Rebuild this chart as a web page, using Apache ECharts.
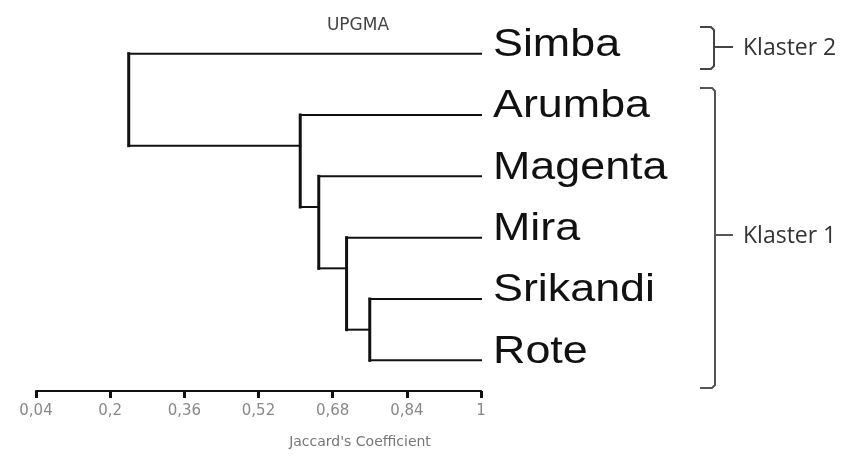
<!DOCTYPE html>
<html><head><meta charset="utf-8">
<script src="https://cdn.jsdelivr.net/npm/echarts@6/dist/echarts.min.js"></script>
<style>html,body{margin:0;padding:0;background:#fff}#c{width:850px;height:457px}</style>
</head><body><div id="c"></div>
<script>
// ---- data ----
const leaves = ['Simba', 'Arumba', 'Magenta', 'Mira', 'Srikandi', 'Rote'];
const mergeA = ['Srikandi', 'Mira', 'Magenta', 'Arumba', 'Simba'];
const mergeB = ['Rote', 'N1', 'N2', 'N3', 'N4'];
const mergeHeight = [0.76, 0.71, 0.65, 0.61, 0.24];
const xMin = 0.04, xMax = 1, xStep = 0.16;
const clusterNames = ['Klaster 2', 'Klaster 1'];
const titleText = 'UPGMA';
const axisTitle = "Jaccard's Coefficient";

// ---- build dendrogram segments from the merge table ----
const nodes = {};
leaves.forEach((n, i) => { nodes[n] = { x: xMax, y: i, top: i }; });
const segH = [], segV = [];
mergeA.forEach((a, k) => {
  const b = mergeB[k], h = mergeHeight[k];
  const A = nodes[a], B = nodes[b];
  segH.push([A.x, A.y, h, A.y]);
  segH.push([B.x, B.y, h, B.y]);
  segV.push([h, A.y, h, B.y]);
  nodes['N' + (k + 1)] = { x: h, y: (A.y + B.top) / 2, top: Math.min(A.top, B.top) };
});

function segRenderer(width) {
  return function (params, api) {
    const p1 = api.coord([api.value(0), api.value(1)]);
    const p2 = api.coord([api.value(2), api.value(3)]);
    return { type: 'line', shape: { x1: p1[0], y1: p1[1], x2: p2[0], y2: p2[1] },
      style: { stroke: '#111', lineWidth: width, lineCap: 'square' } };
  };
}

const chart = echarts.init(document.getElementById('c'));
chart.setOption({
  animation: false,
  backgroundColor: '#fff',
  grid: { left: 36, right: 369, top: 23, bottom: 66 },
  xAxis: {
    type: 'value', min: xMin, max: xMax, interval: xStep,
    splitLine: { show: false },
    axisLine: { show: true, onZero: false, lineStyle: { color: '#111', width: 2 } },
    axisTick: { show: true, length: 7, lineStyle: { color: '#111', width: 3 } },
    axisLabel: { margin: 13, color: '#888', fontSize: 15, fontFamily: 'DejaVu Sans',
      formatter: v => String(+v.toFixed(2)).replace('.', ',') }
  },
  yAxis: { type: 'value', min: -0.5, max: leaves.length - 0.5, inverse: true, show: false },
  series: [
    { type: 'custom', renderItem: segRenderer(2), data: segH, encode: { x: [0, 2], y: [1, 3] }, silent: true },
    { type: 'custom', renderItem: segRenderer(3), data: segV, encode: { x: [0, 2], y: [1, 3] }, silent: true },
    { type: 'custom', data: leaves.map((n, i) => [xMax, i]), encode: { x: 0, y: 1 }, silent: true,
      renderItem: function (params, api) {
        const p = api.coord([api.value(0), api.value(1)]);
        return { type: 'text', x: p[0] + 12, y: p[1] - 8, scaleX: 1.18,
          style: { text: leaves[params.dataIndex], fontSize: 38, fontFamily: 'Liberation Sans',
            fill: '#111', align: 'left', verticalAlign: 'middle' } };
      } }
  ],
  graphic: [
    { type: 'text', x: 358, y: 26, style: { text: titleText, fontSize: 17, fontFamily: 'DejaVu Sans', fill: '#444', align: 'center', verticalAlign: 'middle' } },
    { type: 'text', x: 360, y: 442, style: { text: axisTitle, fontSize: 14, fontFamily: 'DejaVu Sans', fill: '#777', align: 'center', verticalAlign: 'middle' } },
    { type: 'polyline', shape: { points: [[700, 27], [711, 27], [714, 30], [714, 66], [711, 69], [700, 69]] }, style: { stroke: '#444', lineWidth: 2, fill: null } },
    { type: 'line', shape: { x1: 714, y1: 47, x2: 733, y2: 47 }, style: { stroke: '#444', lineWidth: 2 } },
    { type: 'polyline', shape: { points: [[700, 88], [712, 88], [715, 91], [715, 385], [712, 388], [700, 388]] }, style: { stroke: '#555', lineWidth: 2, fill: null } },
    { type: 'line', shape: { x1: 715, y1: 235, x2: 733, y2: 235 }, style: { stroke: '#555', lineWidth: 2 } },
    { type: 'text', x: 743, y: 48, style: { text: clusterNames[0], fontSize: 23, fontFamily: 'Open Sans', fill: '#333', align: 'left', verticalAlign: 'middle' } },
    { type: 'text', x: 743, y: 236, style: { text: clusterNames[1], fontSize: 23, fontFamily: 'Open Sans', fill: '#333', align: 'left', verticalAlign: 'middle' } }
  ]
});
</script>
</body></html>
